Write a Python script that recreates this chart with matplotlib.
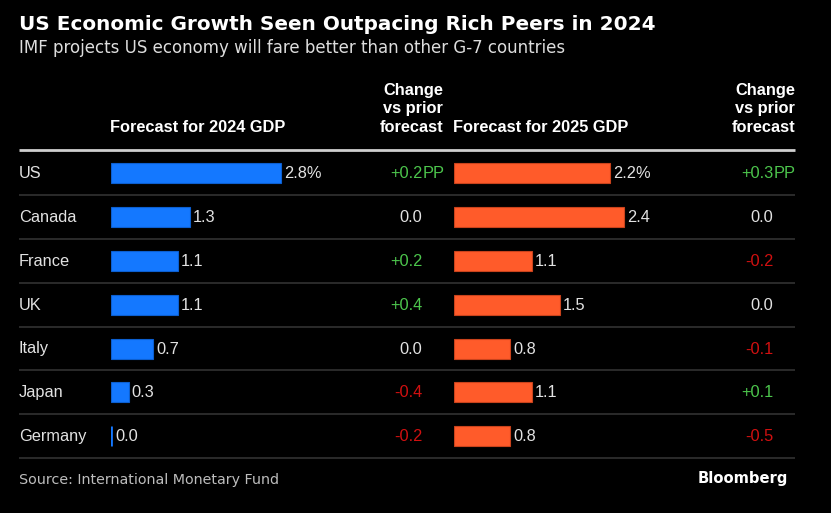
import matplotlib
matplotlib.use("Agg")
import matplotlib.pyplot as plt

countries = ["US", "Canada", "France", "UK", "Italy", "Japan", "Germany"]
gdp_2024 = [2.8, 1.3, 1.1, 1.1, 0.7, 0.3, 0.0]
chg_2024 = [0.2, 0.0, 0.2, 0.4, 0.0, -0.4, -0.2]
gdp_2025 = [2.2, 2.4, 1.1, 1.5, 0.8, 1.1, 0.8]
chg_2025 = [0.3, 0.0, -0.2, 0.0, -0.1, 0.1, -0.5]

W, H = 831, 513
BG = "#000000"
BLUE, BLUE_EDGE = "#1478ff", "#0c5fd0"
ORANGE, ORANGE_EDGE = "#ff5b2a", "#c9431c"
GREEN, RED, WHITE = "#4cc54c", "#d01010", "#e2e2e2"
TABLE_FONT = "Liberation Sans"
FS = 11.8

row_y = [173.3 + 43.8 * i for i in range(len(countries))]

fig = plt.figure(figsize=(W / 100, H / 100), dpi=100, facecolor=BG)
ax = fig.add_axes([0, 0, 1, 1])
ax.set_xlim(0, W)
ax.set_ylim(H, 0)
ax.axis("off")

ax.text(19, 25, "US Economic Growth Seen Outpacing Rich Peers in 2024", color="white",
        fontsize=14.4, fontweight="bold", va="center", ha="left", family="DejaVu Sans")
ax.text(19, 48, "IMF projects US economy will fare better than other G-7 countries", color="#dddddd",
        fontsize=12, va="center", ha="left", family="DejaVu Sans")

# column headers
head = dict(color="white", fontsize=FS, fontweight="bold", family=TABLE_FONT, va="center")
ax.text(110, 128, "Forecast for 2024 GDP", ha="left", **head)
ax.text(453, 128, "Forecast for 2025 GDP", ha="left", **head)
for xr in (443, 795):
    for yy, line in zip((90, 109, 128), ("Change", "vs prior", "forecast")):
        ax.text(xr, yy, line, ha="right", **head)

# rules
ax.plot([19, 795], [150, 150], color="#cfcfcf", lw=2, solid_capstyle="butt")
for y in row_y:
    ax.plot([19, 795], [y + 21.8, y + 21.8], color="#2e2e2e", lw=1.3, solid_capstyle="butt")

for y, name in zip(row_y, countries):
    ax.text(19, y + 0.5, name, color=WHITE, fontsize=FS, family=TABLE_FONT,
            va="center", ha="left")


def bar_axes(x0, scale, vmax):
    bax = fig.add_axes([x0 / W, 0, scale * vmax / W, 1])
    bax.set_xlim(0, vmax)
    bax.set_ylim(H, 0)
    bax.axis("off")
    bax.patch.set_alpha(0)
    return bax


def draw_bars(bax, values, fill, edge, scale):
    for i, (y, v) in enumerate(zip(row_y, values)):
        if v == 0:
            bax.barh(y, 0, height=20, left=0, color=fill, edgecolor=fill, linewidth=2)
        else:
            bax.barh(y, v, height=20, left=0, color=fill, edgecolor=edge, linewidth=0.8)
        label = f"{v:.1f}%" if i == 0 else f"{v:.1f}"
        bax.text(v + (3 if v else 5) / scale, y + 0.5, label, color=WHITE, fontsize=FS,
                 family=TABLE_FONT, va="center", ha="left")


s24, s25 = 61.0, 71.0
ax24 = bar_axes(110.5, s24, 3.0)
ax25 = bar_axes(453.5, s25, 3.0)
draw_bars(ax24, gdp_2024, BLUE, BLUE_EDGE, s24)
draw_bars(ax25, gdp_2025, ORANGE, ORANGE_EDGE, s25)


def change_col(xnum, values):
    for i, (y, v) in enumerate(zip(row_y, values)):
        color = GREEN if v > 0 else RED if v < 0 else WHITE
        txt = f"{v:+.1f}" if v != 0 else "0.0"
        ax.text(xnum, y + 0.5, txt, color=color, fontsize=FS, family=TABLE_FONT,
                va="center", ha="right")
        if i == 0:
            ax.text(xnum, y + 0.5, "PP", color=color, fontsize=FS, family=TABLE_FONT,
                    va="center", ha="left")


change_col(422.5, chg_2024)
change_col(773.5, chg_2025)

ax.text(19, 480, "Source: International Monetary Fund", color="#bdbdbd", fontsize=10.3,
        va="center", ha="left", family="DejaVu Sans")
ax.text(788, 478, "Bloomberg", color="white", fontsize=10.6, fontweight="bold",
        va="center", ha="right", family="DejaVu Sans")

fig.savefig("out.png", dpi=100, facecolor=BG)
